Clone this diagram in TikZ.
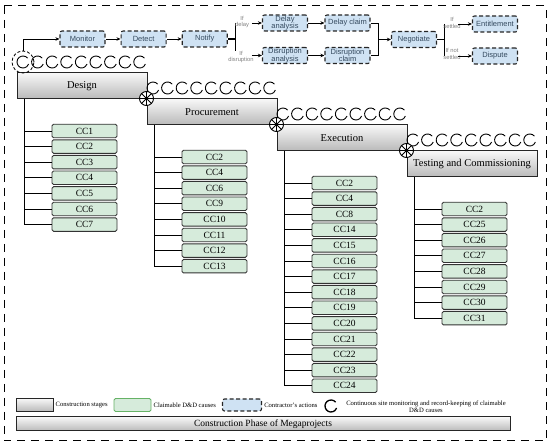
\documentclass[tikz,border=0pt]{standalone}
\usepackage{fontspec}
\setmainfont{Liberation Serif}
\setsansfont{Liberation Sans}
\usetikzlibrary{arrows.meta,positioning}

\definecolor{actblue}{HTML}{CFE2F3}
\definecolor{ccgreen}{HTML}{D6EBDB}
\definecolor{acttext}{HTML}{34495E}

\begin{document}
\begin{tikzpicture}[x=1pt,y=-1pt,
  stage/.style={draw=black!85,line width=1pt,top color=gray!6,bottom color=gray!55,
    minimum width=130pt,minimum height=26pt,inner sep=0pt,font=\fontsize{10.5}{11}\selectfont},
  cc/.style={draw=black!80,line width=.9pt,fill=ccgreen,rounded corners=1.5pt,
    minimum width=65pt,minimum height=13.5pt,inner sep=0pt,font=\fontsize{9.5}{10}\selectfont},
  act/.style={draw=black!85,dash pattern=on 4pt off 2.5pt,line width=1.1pt,fill=actblue,
    rounded corners=2pt,minimum width=45pt,minimum height=16pt,inner sep=0pt,align=center,
    text=acttext,font=\sffamily\fontsize{7.5}{7.5}\selectfont},
  cond/.style={inner sep=.3pt,align=center,text=gray,font=\sffamily\fontsize{5.8}{6.4}\selectfont},
  flow/.style={line width=.9pt,-{Stealth[length=4pt,width=3.5pt]}},
  tree/.style={line width=.9pt},
  curl/.style={line width=.9pt},
  wheel/.style={line width=.9pt,fill=white},
  note/.style={inner sep=1pt,font=\fontsize{6.6}{7.2}\selectfont}]
  \useasboundingbox (0,0) rectangle (550,446);
  \draw[line width=1pt,dash pattern=on 8pt off 6pt] (4,6) rectangle (546,441);

  % stages, their curls and their causes
  \foreach \s/\xl/\yt/\lab/\ccs in {des/17/73/Design/{1,2,3,4,5,6,7},
      prc/147/99/Procurement/{2,4,6,9,10,11,12,13},
      exe/277/125/Execution/{2,4,8,14,15,16,17,18,19,20,21,22,23,24},
      tst/407/151/Testing and Commissioning/{2,25,26,27,28,29,30,31}}{
    \node[stage] (\s) at (\xl+65,\yt+13) {\lab};
    \foreach \i in {0,...,8}
      \draw[curl] (\xl+6+\i*14.6,\yt-11) +(40:6pt) arc[start angle=40,end angle=340,radius=6pt];
    \foreach \c [count=\k] in \ccs {
      \node[cc] (\s\k) at (\xl+67.5,\yt+58+\k*15.6-15.6) {CC\c};
      \draw[tree] ([xshift=8pt]\s.south west) |- (\s\k.west);
    }
  }
  \foreach \s in {prc,exe,tst}{
    \draw[wheel] (\s.north west) circle[radius=7pt];
    \draw[line width=.8pt] (\s.north west) +(0:7pt) -- +(180:7pt) +(90:7pt) -- +(270:7pt)
      +(45:7pt) -- +(225:7pt) +(135:7pt) -- +(315:7pt);
  }

  % contractor's actions
  \node[draw,circle,dash pattern=on 3pt off 2pt,line width=.8pt,minimum size=22pt,inner sep=0pt] (watch) at (23,62) {};
  \node[act] (mon) at (82.5,39) {Monitor};
  \node[act,right=15pt of mon] (det) {Detect};
  \node[act,right=15pt of det] (ntf) {Notify};
  \node[act] (dan) at (285,23) {Delay\\analysis};
  \node[act] (dcl) at (347.5,23) {Delay claim};
  \node[act] (ran) at (285,55.5) {Disruption\\analysis};
  \node[act] (rcl) at (347.5,55.5) {Disruption\\claim};
  \node[act] (neg) at (414,39.5) {Negotiate};
  \node[act] (ent) at (495,24) {Entitlement};
  \node[act] (dsp) at (495,56) {Dispute};

  \draw[flow] (watch.north) |- (mon.west);
  \draw[flow] (mon) -- (det);
  \draw[flow] (det) -- (ntf);
  \draw[line width=1.6pt] (ntf.east) -- ++(8,0) coordinate (b1);
  \draw[tree] (b1|-dan.west) -- (b1|-ran.west);
  \node[cond] (ifd) at (242,22) {If\\delay};
  \node[cond,fill=white] (ifr) at (241,57) {If\\disruption};
  \draw[flow] ([xshift=16pt]b1|-dan.west) -- (dan.west);
  \draw[flow] ([xshift=16pt]b1|-ran.west) -- (ran.west);
  \draw[flow] (dan) -- (dcl);
  \draw[flow] (ran) -- (rcl);
  \draw[tree] (dcl.east) -- ++(8,0) coordinate (j1) -- (j1|-rcl.east) -- (rcl.east);
  \draw[flow] (j1|-neg.west) -- (neg.west);
  \draw[line width=1.6pt] (neg.east) -- ++(7,0) coordinate (b2);
  \draw[tree] (b2|-ent.west) -- (b2|-dsp.west);
  \node[cond] (ifs) at (452,23) {If\\settled};
  \node[cond] (ifn) at (452,54) {If not\\settled};
  \draw[flow] ([xshift=14pt]b2|-ent.west) -- (ent.west);
  \draw[flow] ([xshift=14pt]b2|-dsp.west) -- (dsp.west);

  % legend
  \node[stage,minimum width=37pt,minimum height=13pt] (lg1) at (34.5,405) {};
  \node[note,right=1pt of lg1] (lt1) {Construction stages};
  \node[cc,draw=green!50!black!60,minimum width=37pt,minimum height=13pt] (lg2) at (132.5,405) {};
  \node[note,right=1pt of lg2] (lt2) {Claimable D\&D causes};
  \node[act,minimum width=39pt,minimum height=12pt] (lg3) at (242,405) {};
  \node[note,right=1pt of lg3] (lt3) {Contractor's actions};
  \draw[curl,line width=1.3pt] (331,406) +(40:6pt) arc[start angle=40,end angle=340,radius=6pt];
  \node[note,align=center] (lt4) at (426,407) {Continuous site monitoring and record-keeping of claimable\\D\&D causes};
  \node[stage,minimum width=494pt,minimum height=14pt,font=\fontsize{9.5}{10}\selectfont] (phase) at (263,424)
    {Construction Phase of Megaprojects};
\end{tikzpicture}
\end{document}
